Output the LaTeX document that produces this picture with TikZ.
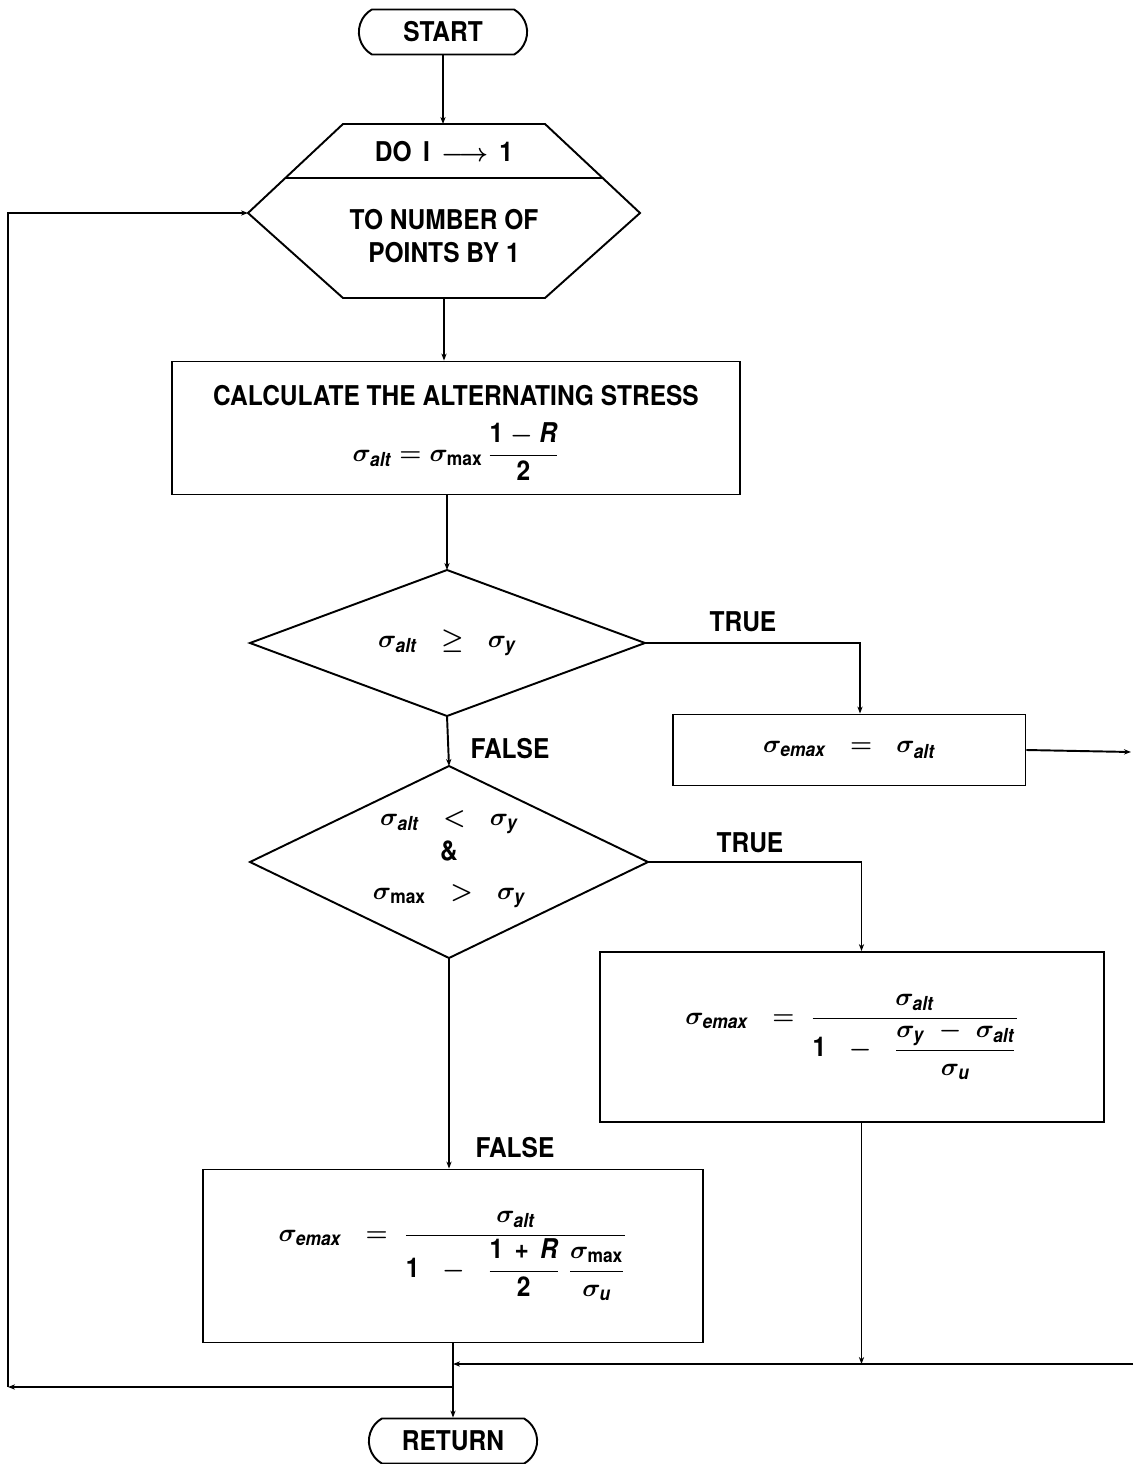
\documentclass[tikz,border=0pt]{standalone}
\usepackage{amsmath}
\usepackage{fontspec}
\setmainfont[FakeStretch=0.9]{TeX Gyre Heros}
\usetikzlibrary{shapes.misc,arrows.meta,positioning}

\newcommand\lbl{\fontsize{15.5}{19}\selectfont\bfseries\boldmath}
\newcommand\subf{\fontsize{11}{12}\selectfont\bfseries}
\newcommand\sgm[1]{\sigma_{\mbox{\subf\itshape #1}}}
\newcommand\sgmu[1]{\sigma_{\mbox{\subf #1}}}

\begin{document}
\begin{tikzpicture}[x=0.02cm, y=-0.02cm, line width=1.1pt,
    >={Stealth[length=4pt,width=3pt]},
    every node/.style={font=\lbl},
    term/.style={rounded rectangle, rounded rectangle arc length=120,
      draw, minimum width=3.6cm, minimum height=0.9cm},
    proc/.style={rectangle, draw}]

  \useasboundingbox (0,0) rectangle (1133,1464);

  \node[term] (start) at (443,32) {START};

  % loop header
  \coordinate (hexN) at (444,124);
  \coordinate (hexS) at (444,298);
  \coordinate (hexW) at (248,213);
  \coordinate (hexE) at (640,213);
  \draw (hexN) ++(-101,0) -- ++(202,0) -- (hexE) -- ++(-95,85)
    -- ++(-202,0) -- (hexW) -- cycle;
  \draw (285,178) -- (603,178);
  \node (do) at (444,152) {DO \,I \,$\longrightarrow$\, 1};
  \node[align=center] (count) at (444,236) {TO NUMBER OF\\POINTS BY 1};

  \node[proc, minimum width=11.36cm, minimum height=2.66cm] (calc) at (456,428) {};
  \node (calctxt) at (456,396) {CALCULATE THE ALTERNATING STRESS};
  \node (calcfrm) at (456,452) {$\sgm{alt} = \sgmu{max}\,\dfrac{\mbox{1 $-$ \itshape R}}{\mbox{2}}$};

  % first test
  \coordinate (d1n) at (447,570);
  \coordinate (d1e) at (645,643);
  \coordinate (d1s) at (447,716);
  \coordinate (d1w) at (250,643);
  \draw (d1n) -- (d1e) -- (d1s) -- (d1w) -- cycle;
  \node (cmp1) at (447,643) {$\sgm{alt}\;\;\ge\;\;\sgm{y}$};

  \node[proc, minimum width=7.06cm, minimum height=1.42cm] (emax1) at (849,750)
    {$\sgm{emax}\;\;=\;\;\sgm{alt}$};

  % second test
  \coordinate (d2n) at (449,766);
  \coordinate (d2e) at (648,862);
  \coordinate (d2s) at (449,958);
  \coordinate (d2w) at (250,862);
  \draw (d2n) -- (d2e) -- (d2s) -- (d2w) -- cycle;
  \node[align=center] (cmp2) at (449,859)
    {$\sgm{alt}\;\;<\;\;\sgm{y}$\\[1pt] \&\\[3pt] $\sgmu{max}\;\;>\;\;\sgm{y}$};

  \node[proc, minimum width=10.1cm, minimum height=3.4cm] (emax2) at (852,1037)
    {$\sgm{emax}\;\;=\;\dfrac{\sgm{alt}}{\mbox{1}\;\;-\;\;\dfrac{\sgm{y}\;-\;\sgm{alt}}{\sgm{u}}}$};

  \node[proc, minimum width=10cm, minimum height=3.46cm] (emax3) at (453,1256)
    {$\sgm{emax}\;\;=\;\dfrac{\sgm{alt}}{\mbox{1}\;\;-\;\;\dfrac{\mbox{1 \,+\, \itshape R}}{\mbox{2}}\;\dfrac{\sgmu{max}}{\sgm{u}}}$};

  \node[term] (ret) at (453,1441) {RETURN};

  \node (true1) at (743,622) {TRUE};
  \node (false1) at (510,749) {FALSE};
  \node (true2) at (750,843) {TRUE};
  \node (false2) at (515,1148) {FALSE};

  \coordinate (out1) at (1131,752);
  \coordinate (in2) at (1133,1364);
  \coordinate (mrg) at (453,1364);
  \coordinate (jn) at (453,1387);
  \coordinate (lc) at (8,1387);

  \draw[->] (start.south) -- (start.south |- hexN);
  \draw[->] (hexS) -- (hexS |- calc.north);
  \draw[->] (d1n |- calc.south) -- (d1n);
  \draw[->] (d1e) -| ([xshift=0.22cm]emax1.north);
  \draw[->] (emax1.east) -- (out1);
  \draw[->] (d1s) -- (d2n);
  \draw[->] (d2e) -| ([xshift=0.19cm]emax2.north);
  \draw[->] (d2s) -- (d2s |- emax3.north);
  \draw[->] ([xshift=0.19cm]emax2.south) -- ([xshift=0.19cm]emax2.south |- in2);
  \draw[->] (in2) -- (mrg);
  \draw (emax3.south) -- (jn);
  \draw[->] (jn) -- (ret.north);
  \draw[->] (jn) -- (lc);
  \draw[->] (lc) |- (hexW);
\end{tikzpicture}
\end{document}
